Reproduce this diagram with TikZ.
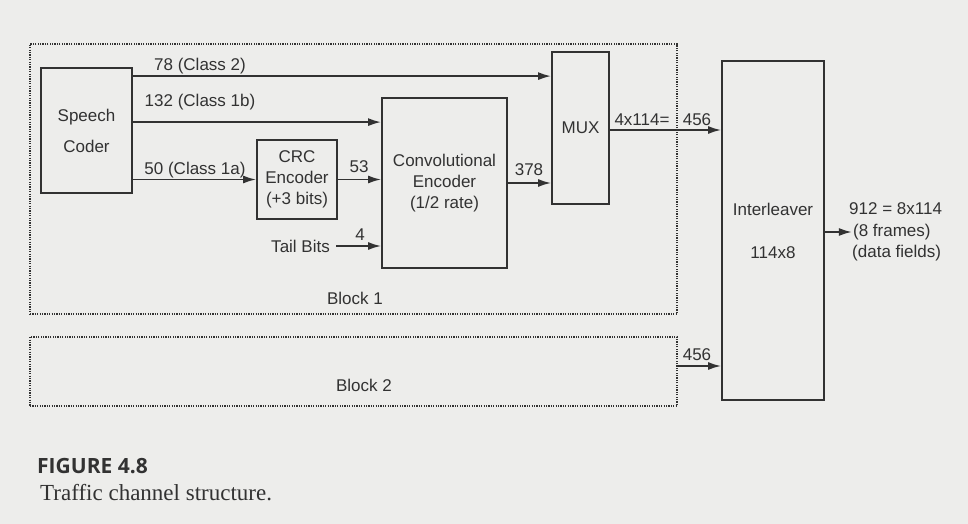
\documentclass[tikz,border=0pt]{standalone}
\usepackage{fontspec}
\setmainfont{Liberation Sans}
\newfontfamily\capserif{Liberation Serif}
\newfontfamily\capsans{Open Sans}
\usetikzlibrary{arrows.meta}
\definecolor{paper}{RGB}{237,237,235}
\definecolor{ink}{RGB}{50,50,50}
\tikzset{
  box/.style={draw=ink, line width=1.8pt, minimum width=#1, inner sep=0pt},
  blockbox/.style={draw=ink, line width=1.3pt, dash pattern=on 1.2pt off 1.2pt},
  arr/.style={draw=ink, line width=1.8pt, -{Latex[length=13pt,width=8pt]}},
  lbl/.style={text=ink, inner sep=1pt, font=\fontsize{17}{21}\selectfont},
}
\begin{document}
\begin{tikzpicture}[x=1pt,y=-1pt]
\fill[paper] (0,0) rectangle (968,524);
\useasboundingbox (0,0) rectangle (968,524);

% blocks
\node[blockbox, minimum width=647pt, minimum height=270pt] (b1) at (353.5,179) {};
\node[blockbox, minimum width=647pt, minimum height=69pt] (b2) at (353.5,371.5) {};
\node[lbl] (b1t) at (355,298) {Block 1};
\node[lbl] (b2t) at (364,385) {Block 2};

% boxes
\node[box=91pt, minimum height=125pt, lbl, align=center, font=\fontsize{17}{31}\selectfont] (sc) at (86.5,130.5) {Speech\\Coder};
\node[box=80pt, minimum height=79pt, lbl, align=center] (crc) at (297,179.5) {CRC\\Encoder\\(+3 bits)};
\node[box=125pt, minimum height=170pt, lbl, align=center] (conv) at (444.5,183) {Convolutional\\Encoder\\(1/2 rate)};
\node[box=57pt, minimum height=152pt, lbl] (mux) at (580.5,128) {MUX};
\node[box=102pt, minimum height=339pt, lbl, align=center, font=\fontsize{17}{43}\selectfont] (il) at (773,230.5) {Interleaver\\114x8};

% connectors
\draw[arr] ([yshift=-9pt]sc.north east) -- ([yshift=-9pt]sc.north east -| mux.west);
\draw[arr] ([yshift=-55pt]sc.north east) -- ([yshift=-55pt]sc.north east -| conv.west);
\draw[arr] (crc.west -| sc.east) -- (crc.west);
\draw[arr] (crc.east) -- (crc.east -| conv.west);
\node[lbl, anchor=east] (tb) at (331,246) {Tail Bits};
\draw[arr] ([xshift=5pt]tb.east) -- (tb.east -| conv.west);
\draw[arr] (conv.east) -- (conv.east -| mux.west);
\draw[arr] ([yshift=-2pt]mux.east) -- ([yshift=-2pt]mux.east -| il.west);
\draw[arr] ([yshift=5.5pt]b2.east) -- ([yshift=5.5pt]b2.east -| il.west);
\coordinate (out) at ([xshift=27pt,yshift=-1.5pt]il.east);
\draw[arr] ([yshift=-1.5pt]il.east) -- (out);

% labels
\node[lbl] (l78) at (200,66) {78 (Class 2)};
\node[lbl] (l132) at (200,102) {132 (Class 1b)};
\node[lbl] (l50) at (195,170) {50 (Class 1a)};
\node[lbl] (l53) at (359,167) {53};
\node[lbl] (l4) at (360,235) {4};
\node[lbl] (l378) at (529,170) {378};
\node[lbl] (l4x) at (642,120) {4x114=};
\node[lbl] (l456a) at (697,120) {456};
\node[lbl] (l456b) at (697,355) {456};
\node[lbl, anchor=west] (o1) at (848,209) {912 = 8x114};
\node[lbl, anchor=west] (o2) at ([xshift=0pt]out) {(8 frames)};
\node[lbl, anchor=west] (o3) at (851,253) {(data fields)};

% caption
\node[anchor=base west, text=ink, inner sep=0pt, font=\capsans\bfseries\fontsize{21}{24}\selectfont] (fig) at (37,473) {FIGURE 4.8};
\node[anchor=base west, text=ink, inner sep=0pt, font=\capserif\fontsize{23}{26}\selectfont] (cap) at (40,500) {Traffic channel structure.};
\end{tikzpicture}
\end{document}
